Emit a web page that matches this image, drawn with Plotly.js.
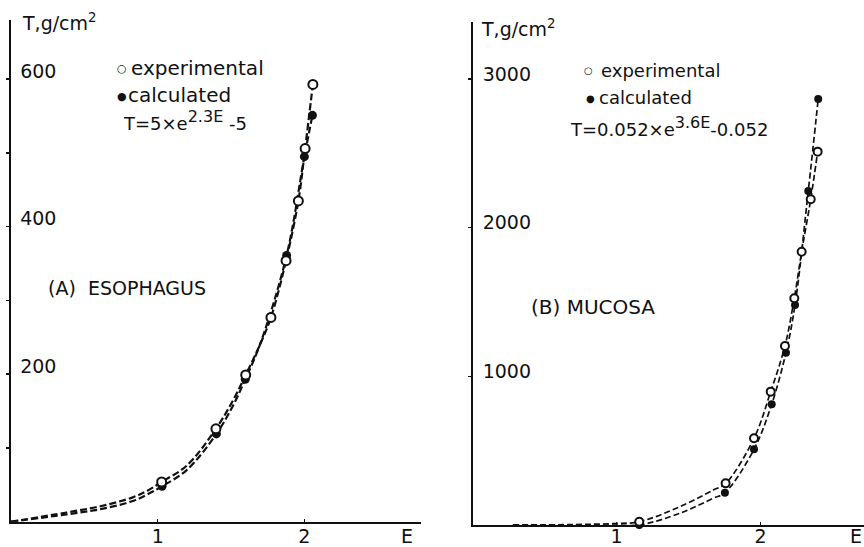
<!DOCTYPE html>
<html><head><meta charset="utf-8">
<script src="https://cdn.plot.ly/plotly-3.0.1.min.js"></script>
<style>html,body{margin:0;padding:0;background:#fff}#chart{width:864px;height:547px}</style>
</head><body><div id="chart"></div>
<script>
// ---- Panel A: esophagus ----
const escExpE  = [1.027, 1.397, 1.600, 1.772, 1.875, 1.959, 2.005, 2.058];
const escExpT  = [54, 126, 199, 277, 354, 435, 506, 593];
const escCalcE = [1.030, 1.400, 1.597, 1.879, 2.000, 2.055];
const escCalcT = [48, 119, 193, 361, 495, 551];
const escExpLineE  = [0, 0.38, 0.61, 0.83, 0.93, 1.027, 1.198, 1.397, 1.515, 1.600, 1.697, 1.772, 1.875, 1.959, 2.005, 2.058];
const escExpLineT  = [0, 12.5, 21, 33, 42, 54, 76, 126, 165, 199, 240, 277, 354, 435, 506, 593];
const escCalcLineE = [0, 0.38, 0.61, 0.83, 0.93, 1.030, 1.198, 1.400, 1.515, 1.597, 1.697, 1.879, 2.000, 2.055];
const escCalcLineT = [0, 10, 17, 28, 37, 48, 70, 119, 158, 193, 240, 361, 495, 551];
const escTickVals  = [200, 400, 600];
const escTickText  = ['200', '400', '600'];
const escMinorVals = [100, 300, 500];

// ---- Panel B: mucosa ----
const mucExpE  = [1.158, 1.758, 1.955, 2.071, 2.170, 2.235, 2.286, 2.349, 2.397];
const mucExpT  = [22, 280, 583, 897, 1204, 1525, 1838, 2191, 2511];
const mucCalcE = [1.158, 1.753, 1.955, 2.078, 2.177, 2.240, 2.332, 2.401];
const mucCalcT = [0, 217, 509, 812, 1159, 1480, 2247, 2865];
const mucExpLineE  = [0.28, 0.70, 1.00, 1.158, 1.441, 1.672, 1.758, 1.955, 2.071, 2.170, 2.235, 2.286, 2.349, 2.397];
const mucExpLineT  = [0, 3, 10, 22, 123, 235, 280, 583, 897, 1204, 1525, 1838, 2191, 2511];
const mucCalcLineE = [0.28, 0.70, 1.00, 1.158, 1.441, 1.672, 1.753, 1.955, 2.078, 2.177, 2.240, 2.332, 2.401];
const mucCalcLineT = [0, 0, 0, 0, 79, 180, 217, 509, 812, 1159, 1480, 2247, 2865];
const mucTickVals = [1000, 2000, 3000];
const mucTickText = ['1000', '2000', '3000'];

const xTickVals = [1, 2];
const xTickText = ['1', '2'];

const W = 864, H = 547;
const FONT = 'DejaVu Sans';
const px = x => x / W;
const py = y => 1 - y / H;

function lineTrace(x, y, xa, ya, name, width, dash) {
  return {x, y, xaxis: xa, yaxis: ya, mode: 'lines', name, showlegend: false,
    line: {color: '#111', width, dash, shape: 'spline', smoothing: 1}, hoverinfo: 'skip', cliponaxis: false};
}
function ptTrace(x, y, xa, ya, name, open, size) {
  return {x, y, xaxis: xa, yaxis: ya, mode: 'markers', name, showlegend: false, cliponaxis: false,
    marker: {symbol: 'circle', size, color: open ? '#fff' : '#111', line: {color: '#111', width: open ? 2 : 0}}};
}

const data = [
  lineTrace(escExpLineE, escExpLineT, 'x', 'y', 'experimental fit', 2.2, '7px,3px'),
  lineTrace(escCalcLineE, escCalcLineT, 'x', 'y', 'calculated fit', 2.2, '7px,3px'),
  ptTrace(escCalcE, escCalcT, 'x', 'y', 'calculated', false, 9),
  ptTrace(escExpE, escExpT, 'x', 'y', 'experimental', true, 9),
  lineTrace(mucExpLineE, mucExpLineT, 'x2', 'y2', 'experimental fit', 1.7, '6px,3px'),
  lineTrace(mucCalcLineE, mucCalcLineT, 'x2', 'y2', 'calculated fit', 1.7, '6px,3px'),
  ptTrace(mucCalcE, mucCalcT, 'x2', 'y2', 'calculated', false, 8),
  ptTrace(mucExpE, mucExpT, 'x2', 'y2', 'experimental', true, 8)
];

const axFont = {family: FONT, size: 19, color: '#111'};
function xAx(domain, range, anchor, standoff) {
  return {domain, range, anchor, showline: true, linecolor: '#111', linewidth: 2, showgrid: false, zeroline: false,
    tickmode: 'array', tickvals: xTickVals, ticktext: xTickText, ticks: 'inside', ticklen: 3, tickwidth: 1.5,
    tickcolor: '#111', ticklabelstandoff: standoff, tickfont: axFont, fixedrange: true};
}
function yAx(domain, range, tv, tt, minorVals, anchor, standoff, shift) {
  const ax = {domain, range, anchor, showline: true, linecolor: '#111', linewidth: 2, showgrid: false, zeroline: false,
    tickmode: 'array', tickvals: tv, ticktext: tt, ticks: 'outside', ticklen: 3, tickwidth: 1.5, tickcolor: '#111',
    ticklabelposition: 'inside', ticklabelstandoff: standoff, ticklabelshift: shift, tickfont: axFont, fixedrange: true};
  if (minorVals) ax.minor = {tickmode: 'array', tickvals: minorVals, ticks: 'outside', ticklen: 3, tickwidth: 1.5, tickcolor: '#111', showgrid: false};
  return ax;
}

function ann(text, x, y, size, xanchor, yanchor) {
  return {text, x: px(x), y: py(y), xref: 'paper', yref: 'paper', showarrow: false,
    xanchor: xanchor || 'left', yanchor: yanchor || 'middle', font: {family: FONT, size, color: '#111'}};
}

const layout = {
  width: W, height: H, margin: {l: 0, r: 0, t: 0, b: 0},
  paper_bgcolor: '#fff', plot_bgcolor: 'rgba(0,0,0,0)', showlegend: false,
  xaxis: xAx([px(11), px(420.7)], [0, 2.793], 'y', -4),
  yaxis: yAx([1 - 521.7 / H, 1 - 20 / H], [0, 680.3], escTickVals, escTickText, escMinorVals, 'x', 10, -8),
  xaxis2: xAx([px(472.5), 1], [0, 2.719], 'y2', -7),
  yaxis2: yAx([1 - 525 / H, 1 - 21.7 / H], [0, 3385], mucTickVals, mucTickText, null, 'x2', 11, -5),
  annotations: [
    ann('T,g/cm<sup>2</sup>', 20, 36, 19, 'left', 'bottom'),
    ann('○', 121.7, 68, 11, 'center'),
    ann('experimental', 129, 68, 20),
    ann('●', 121.7, 96.7, 11, 'center'),
    ann('calculated', 126, 95, 20),
    ann('T=5×e<sup><span style="font-size:16px">2.3E</span></sup> -5', 121, 136, 18, 'left', 'bottom'),
    ann('(A)  ESOPHAGUS', 126.7, 288, 19, 'center'),
    ann('E', 406.7, 536, 19, 'center'),
    ann('T,g/cm<sup>2</sup>', 479, 42, 19, 'left', 'bottom'),
    ann('○', 588.3, 70, 10, 'center'),
    ann('experimental', 599, 70, 18),
    ann('●', 590, 98.3, 10, 'center'),
    ann('calculated', 597, 97, 18),
    ann('T=0.052×e<sup><span style="font-size:16px">3.6E</span></sup>-0.052', 568, 142, 18, 'left', 'bottom'),
    ann('(B) MUCOSA', 592.5, 306.7, 20, 'center'),
    ann('E', 864, 536, 19, 'right')
  ]
};

Plotly.newPlot('chart', data, layout, {staticPlot: true, displayModeBar: false});
</script></body></html>
